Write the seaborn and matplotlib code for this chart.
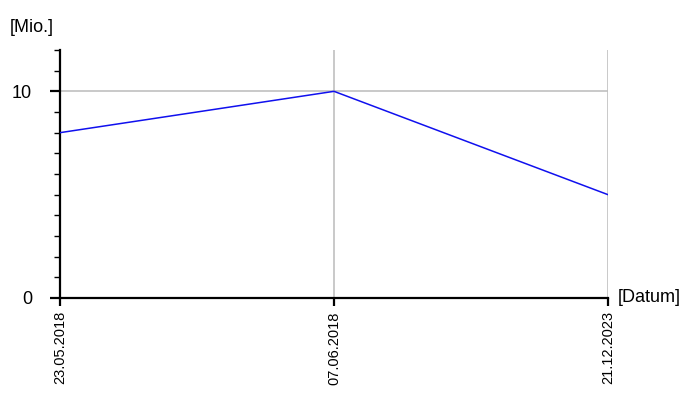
import matplotlib
matplotlib.use("Agg")
import matplotlib.pyplot as plt
import seaborn as sns
import pandas as pd
from matplotlib.ticker import MultipleLocator

# data
dates = ["23.05.2018", "07.06.2018", "21.12.2023"]
values = [8, 10, 5]

df = pd.DataFrame({"Datum": dates, "Wert": values})

sns.set_theme(style="white")
plt.rcParams["font.family"] = ["Liberation Sans", "DejaVu Sans"]
plt.rcParams["text.color"] = "black"

fig = plt.figure(figsize=(7, 4), dpi=100)
ax = fig.add_axes([60 / 700, 1 - 298 / 400, 548 / 700, 248 / 400])

sns.lineplot(data=df, x="Datum", y="Wert", ax=ax, color="#1010ee",
             linewidth=1.1, sort=False, zorder=3)

ax.set_xlim(0, len(dates) - 1)
ax.set_ylim(0, 12)
ax.set_yticks([0, 10])
ax.yaxis.set_minor_locator(MultipleLocator(1))
ax.set_xlabel("")
ax.set_ylabel("")

# grid: horizontal at 10, vertical at categories
ax.grid(True, which="major", color="#c0c0c0", linewidth=1.2)
ax.set_axisbelow(True)

for s in ["top", "right"]:
    ax.spines[s].set_visible(False)
for s in ["left", "bottom"]:
    ax.spines[s].set_color("black")
    ax.spines[s].set_linewidth(1.6)

ax.tick_params(axis="y", which="major", left=True, length=7, width=1.6,
               color="black", labelcolor="black", pad=13, labelsize=13)
ax.tick_params(axis="y", which="minor", left=True, length=4.3, width=1,
               color="black")
ax.tick_params(axis="x", which="major", bottom=True, length=5.5, width=1.6,
               color="black", labelcolor="black", pad=4, labelsize=10.5,
               labelrotation=90)

fig.text(10 / 700, 1 - 28 / 400, "[Mio.]", fontsize=13, va="center", ha="left",
         color="black")
fig.text(618 / 700, 1 - 298 / 400, "[Datum]", fontsize=13, va="center", ha="left",
         color="black")

fig.savefig("out.png", dpi=100)
